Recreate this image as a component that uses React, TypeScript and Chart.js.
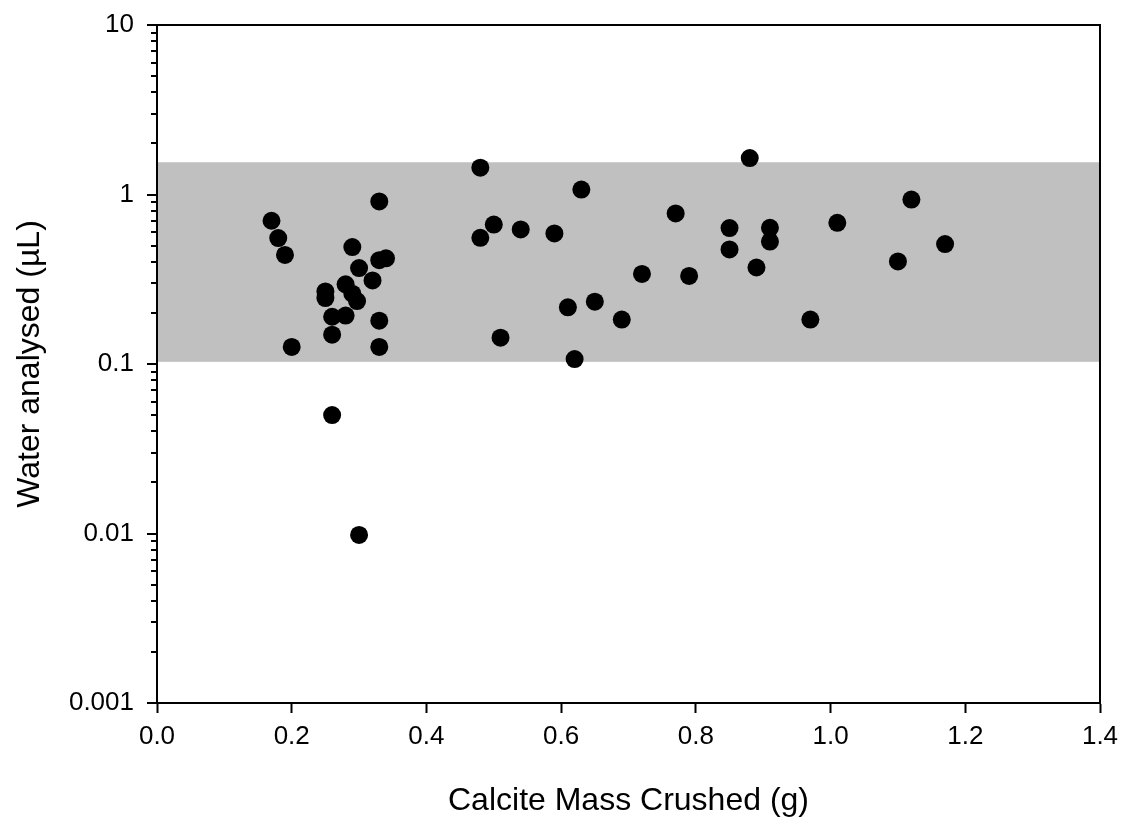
import React, { useEffect, useRef } from "react";
import { Chart, registerables } from "chart.js";

Chart.register(...registerables);

// Calcite mass crushed (g)
const massX = [
  0.17, 0.18, 0.19, 0.2, 0.25, 0.25, 0.26, 0.26, 0.26, 0.28, 0.28, 0.29, 0.29, 0.297,
  0.3, 0.3, 0.32, 0.33, 0.33, 0.34, 0.33, 0.33, 0.48, 0.48, 0.5, 0.51, 0.54, 0.59,
  0.61, 0.62, 0.63, 0.65, 0.69, 0.72, 0.77, 0.79, 0.85, 0.85, 0.88, 0.89, 0.91, 0.91,
  0.97, 1.01, 1.1, 1.12, 1.17,
];
// Water analysed (µL)
const waterY = [
  0.7, 0.553, 0.44, 0.126, 0.268, 0.245, 0.19, 0.149, 0.05, 0.295, 0.193, 0.49, 0.26, 0.235,
  0.368, 0.0098, 0.311, 0.91, 0.41, 0.42, 0.18, 0.126, 1.44, 0.555, 0.665, 0.143, 0.622, 0.589,
  0.216, 0.107, 1.07, 0.233, 0.183, 0.34, 0.773, 0.331, 0.634, 0.474, 1.64, 0.371, 0.636, 0.528,
  0.183, 0.681, 0.403, 0.934, 0.51,
];
// Shaded range (µL)
const bandRange = [0.103, 1.55];
const yTickValues = [0.001, 0.01, 0.1, 1, 10];
const yTickLabels = ["0.001", "0.01", "0.1", "1", "10"];
const xTitle = "Calcite Mass Crushed (g)";
const yTitle = "Water analysed (\u00B5L)";

const FONT = "Arial, 'Liberation Sans', sans-serif";

const isDecade = (v: number) => Math.abs(Math.log10(v) - Math.round(Math.log10(v))) < 1e-6;

const framePlugin = {
  id: "frame",
  beforeDatasetsDraw(chart: any) {
    const { ctx, chartArea: a, scales } = chart;
    const y = scales.y;
    const top = y.getPixelForValue(bandRange[1]);
    const bot = y.getPixelForValue(bandRange[0]);
    ctx.save();
    ctx.fillStyle = "#c0c0c0";
    ctx.fillRect(a.left, top, a.right - a.left, bot - top);
    ctx.restore();
  },
  afterDraw(chart: any) {
    const { ctx, chartArea: a, scales } = chart;
    const y = scales.y;
    ctx.save();
    ctx.strokeStyle = "#000";
    ctx.lineWidth = 2;
    ctx.strokeRect(a.left, a.top, a.right - a.left, a.bottom - a.top);
    // y ticks: major + minor
    for (let e = -3; e <= 1; e++) {
      for (let m = 1; m <= 9; m++) {
        const v = m * Math.pow(10, e);
        if (v > 10.0001) break;
        const py = Math.round(y.getPixelForValue(v));
        const len = m === 1 ? 10 : 6;
        ctx.beginPath();
        ctx.moveTo(a.left - len, py);
        ctx.lineTo(a.left, py);
        ctx.stroke();
      }
    }
    ctx.restore();
  },
};

export default function App() {
  const ref = useRef<HTMLCanvasElement | null>(null);
  useEffect(() => {
    document.body.style.margin = "0";
    const canvas = ref.current;
    if (!canvas) return;
    const data = massX.map((x, i) => ({ x, y: waterY[i] }));
    const chart = new Chart(canvas, {
      type: "scatter",
      data: {
        datasets: [
          {
            data,
            backgroundColor: "#000",
            borderColor: "#000",
            borderWidth: 0,
            pointRadius: 9,
            pointHoverRadius: 9,
          },
        ],
      },
      options: {
        animation: false,
        responsive: false,
        devicePixelRatio: 1,
        layout: { padding: { top: 25, right: 26, left: 0, bottom: 0 } },
        plugins: { legend: { display: false }, tooltip: { enabled: false } },
        scales: {
          x: {
            type: "linear",
            min: 0,
            max: 1.4,
            afterFit: (s: any) => {
              s.height = 120;
              s.paddingLeft = 0;
              s.paddingRight = 0;
            },
            border: { display: true, color: "#000", width: 2 },
            grid: { drawOnChartArea: false, drawTicks: true, tickLength: 10, tickColor: "#000", tickWidth: 2 },
            ticks: {
              stepSize: 0.2,
              padding: 8,
              color: "#000",
              font: { family: FONT, size: 26 },
              callback: (v: any) => Number(v).toFixed(1),
            },
            title: {
              display: true,
              text: xTitle,
              color: "#000",
              font: { family: FONT, size: 32 },
              padding: { top: 0, bottom: 3 },
            },
          },
          y: {
            type: "logarithmic",
            min: 0.001,
            max: 10,
            afterFit: (s: any) => {
              s.width = 157;
              s.paddingTop = 0;
              s.paddingBottom = 0;
            },
            afterBuildTicks: (s: any) => {
              s.ticks = yTickValues.map((v) => ({ value: v }));
            },
            border: { display: true, color: "#000", width: 2 },
            grid: { drawOnChartArea: false, drawTicks: true, tickLength: 10, tickColor: "rgba(0,0,0,0)" },
            ticks: {
              autoSkip: false,
              padding: 13,
              color: "#000",
              font: { family: FONT, size: 26 },
              callback: (v: any) => {
                const i = yTickValues.findIndex((t) => Math.abs(t - Number(v)) / t < 1e-6);
                return i >= 0 && isDecade(Number(v)) ? yTickLabels[i] : "";
              },
            },
            title: {
              display: true,
              text: yTitle,
              color: "#000",
              font: { family: FONT, size: 32 },
              padding: { top: 11, bottom: 0 },
            },
          },
        },
      },
      plugins: [framePlugin],
    });
    return () => chart.destroy();
  }, []);
  return <canvas ref={ref} width={1126} height={823} style={{ display: "block" }} />;
}
